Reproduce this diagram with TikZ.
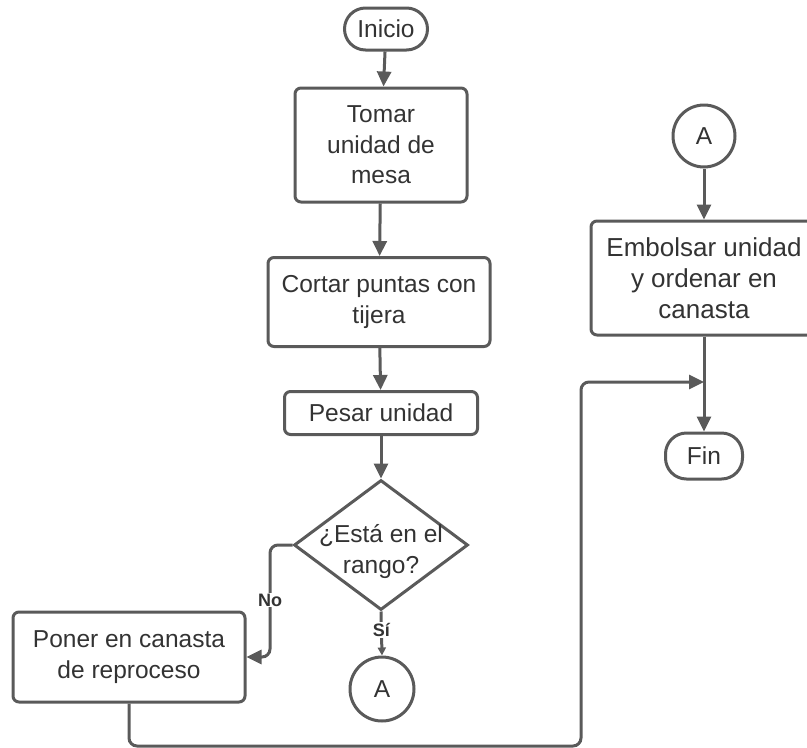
\documentclass[tikz,border=0pt]{standalone}
\usepackage{fontspec}
\setmainfont{Liberation Sans}
\usetikzlibrary{shapes.geometric,arrows.meta}
\definecolor{edgegray}{HTML}{5A5A5A}
\definecolor{inkgray}{HTML}{333333}
\tikzset{
  base/.style={draw=edgegray, line width=3pt, fill=white, text=inkgray,
    inner sep=0pt, align=center, font=\fontsize{24.5}{30.5}\selectfont},
  procbox/.style={base, rectangle, rounded corners=6pt},
  terminal/.style={base, rectangle, rounded corners=21pt},
  decision/.style={base, diamond, aspect=1.34},
  connector/.style={base, circle},
  flow/.style={draw=edgegray, line width=3pt, rounded corners=8pt,
    -{Triangle[length=15pt,width=14pt]}},
  thinflow/.style={draw=edgegray, line width=3pt,
    -{Triangle[length=8pt,width=8pt]}},
  branch/.style={fill=white, text=inkgray, inner sep=1pt,
    font=\fontsize{18}{20}\selectfont\bfseries},
}
\begin{document}
\begin{tikzpicture}[x=1pt, y=-1pt]
\useasboundingbox (0,0) rectangle (807,748);

% left column
\node[terminal, minimum width=83pt, minimum height=42pt] (inicio) at (386,29) {Inicio};
\node[procbox, minimum width=172pt, minimum height=114pt] (tomar) at (381,145) {Tomar\\unidad de\\mesa};
\node[procbox, minimum width=222pt, minimum height=89pt] (cortar) at (379,302) {Cortar puntas con\\tijera};
\node[procbox, minimum width=193pt, minimum height=43pt] (pesar) at (381,413) {Pesar unidad};
% the question is a little wider than the diamond and sits slightly low
\node[decision, minimum width=174pt, minimum height=130pt] (rango) at (381,545)
  {\makebox[0pt]{\raisebox{-13pt}[0pt][0pt]{\begin{tabular}{@{}c@{}}¿Está en el\\rango?\end{tabular}}}};
\node[procbox, minimum width=232pt, minimum height=90pt] (poner) at (129,657) {Poner en canasta\\de reproceso};
\node[connector, minimum size=64pt] (a1) at (382,689) {A};

% right column
\node[connector, minimum size=62pt] (a2) at (704,136) {A};
\node[procbox, minimum width=226pt, minimum height=114pt,
  font=\fontsize{26}{31}\selectfont] (embolsar) at (704,278) {Embolsar unidad\\y ordenar en\\canasta};
\node[terminal, minimum width=77pt, minimum height=46pt] (fin) at (704,456) {Fin};
\coordinate (merge) at (704,382);

% main sequence
\draw[flow] (inicio) -- (tomar);
\draw[flow] (tomar) -- (cortar);
\draw[flow] (cortar) -- (pesar);
\draw[flow] (pesar) -- (rango);

% decision branches
\draw[thinflow] (rango.south) -- (a1.north)
  node[branch, pos=0.42] (si) {Sí};
\draw[flow] (rango.west) -- (270,545) -- (270,657) -- (poner.east);
\node[branch] (no) at (270,600) {No};

% reprocess line back into the right column
\draw[flow] (poner.south) -- (129,746) -- (581,746) -- (581,382) -- (merge);

\draw[flow] (a2) -- (embolsar);
\draw[flow] (embolsar) -- (fin);
\end{tikzpicture}
\end{document}
